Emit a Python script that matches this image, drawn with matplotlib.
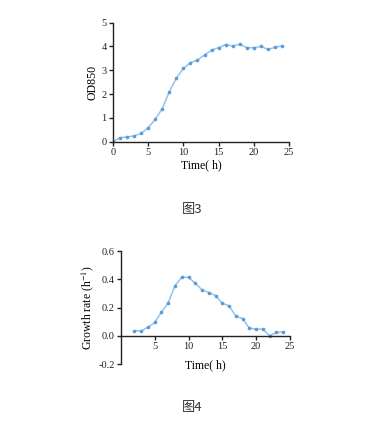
import matplotlib
matplotlib.use('Agg')
import matplotlib.pyplot as plt

plt.rcParams['font.family'] = ['Liberation Serif', 'Noto Sans CJK SC']
plt.rcParams['mathtext.fontset'] = 'stix'

# --- data ---
time_od = list(range(0, 25))
od850 = [0.0, 0.17, 0.20, 0.24, 0.35, 0.59, 0.94, 1.39, 2.10, 2.67, 3.08, 3.32, 3.43,
         3.64, 3.85, 3.95, 4.08, 4.02, 4.10, 3.95, 3.95, 4.00, 3.88, 3.96, 4.03]

time_gr = list(range(2, 25))
growth_rate = [0.035, 0.035, 0.060, 0.094, 0.167, 0.235, 0.355, 0.414, 0.414, 0.372,
               0.325, 0.306, 0.285, 0.230, 0.212, 0.139, 0.122, 0.054, 0.047, 0.047,
               0.0, 0.024, 0.028]

LINE = '#92c4ee'
MARK = '#5b9bd8'
AXC = '#222222'
fs = 7.5

fig = plt.figure(figsize=(3.89, 4.28), dpi=100)

def style(ax):
    for s in ['top', 'right']:
        ax.spines[s].set_visible(False)
    for s in ['left', 'bottom']:
        ax.spines[s].set_linewidth(1.0)
        ax.spines[s].set_color(AXC)
    ax.tick_params(direction='out', length=3, width=1.0, labelsize=fs, pad=1.5, colors=AXC)

# --- top chart ---
ax1 = fig.add_axes([0.2905, 0.669, 0.4524, 0.278])
ax1.plot(time_od, od850, color=LINE, lw=1.1, marker='o', ms=1.6, mfc=MARK, mec=MARK)
ax1.set_xlim(0, 25); ax1.set_ylim(0, 5)
ax1.set_xticks([0, 5, 10, 15, 20, 25]); ax1.set_yticks([0, 1, 2, 3, 4, 5])
style(ax1)
ax1.set_xlabel('Time( h)', fontsize=8.5, labelpad=2)
ax1.set_ylabel('OD850', fontsize=8.5, labelpad=2)

# --- bottom chart ---
ax2 = fig.add_axes([0.311, 0.1495, 0.434, 0.264])
ax2.plot(time_gr, growth_rate, color=LINE, lw=1.1, marker='o', ms=1.6, mfc=MARK, mec=MARK)
ax2.set_xlim(0, 25); ax2.set_ylim(-0.2, 0.6)
ax2.set_xticks([5, 10, 15, 20, 25]); ax2.set_yticks([-0.2, 0.0, 0.2, 0.4, 0.6])
ax2.set_yticklabels(['-0.2', '0.0', '0.2', '0.4', '0.6'])
ax2.spines['bottom'].set_position(('data', 0))
style(ax2)
ax2.set_xlabel('Time( h)', fontsize=8.5, labelpad=2)
ax2.xaxis.set_label_coords(0.5, 0.04)
ax2.set_ylabel('Growth rate (h$^{-1}$)', fontsize=8.5, labelpad=2)

# --- captions ---
fig.text(192 / 389, 1 - 209 / 428, '图3', fontsize=9.5, ha='center', va='center', color='#333333',
         family=['Noto Sans CJK SC', 'DejaVu Sans'])
fig.text(192 / 389, 1 - 407 / 428, '图4', fontsize=9.5, ha='center', va='center', color='#333333',
         family=['Noto Sans CJK SC', 'DejaVu Sans'])

fig.savefig('out.png', dpi=100, facecolor='white')
